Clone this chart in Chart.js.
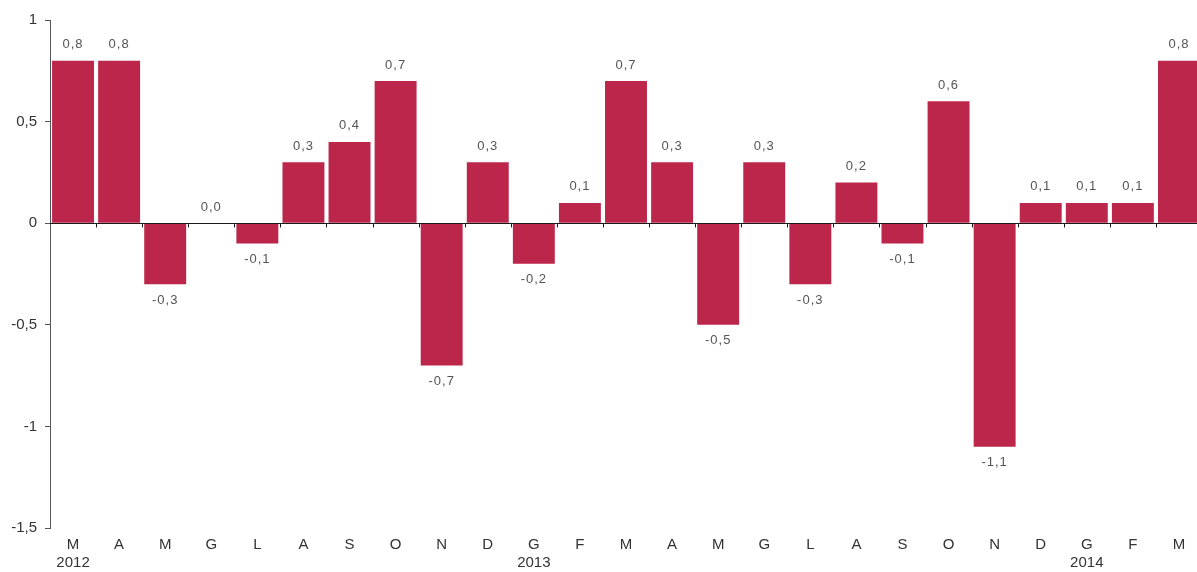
<!DOCTYPE html>
<html>
<head>
<meta charset="utf-8">
<script src="https://cdn.jsdelivr.net/npm/chart.js@4/dist/chart.umd.min.js"></script>
<style>
  html, body { margin: 0; padding: 0; background: #fff; overflow: hidden; }
  #wrap { width: 1202px; height: 572px; position: relative; }
</style>
</head>
<body>
<div id="wrap"><canvas id="chart"></canvas></div>
<script>
// monthly change, Mar 2012 - Mar 2014
const months = ["M","A","M","G","L","A","S","O","N","D","G","F","M","A","M","G","L","A","S","O","N","D","G","F","M"];
const years = { 0: "2012", 10: "2013", 22: "2014" };
const values = [0.8, 0.8, -0.3, 0.0, -0.1, 0.3, 0.4, 0.7, -0.7, 0.3, -0.2, 0.1, 0.7, 0.3, -0.5, 0.3, -0.3, 0.2, -0.1, 0.6, -1.1, 0.1, 0.1, 0.1, 0.8];
const yMin = -1.5, yMax = 1, yStep = 0.5;

const labels = months.map((m, i) => (years[i] ? [m, years[i]] : m));
const fmt = (v) => v.toFixed(1).replace(".", ",");

// zero line + small ticks between categories, and the value labels
const extras = {
  id: "extras",
  afterDatasetsDraw(chart) {
    const { ctx, chartArea, scales } = chart;
    const x = scales.x, y = scales.y;
    const y0 = Math.round(y.getPixelForValue(0)) + 0.5;
    const step = x.getPixelForValue(1) - x.getPixelForValue(0);

    ctx.save();
    ctx.strokeStyle = "#1a1a1a";
    ctx.lineWidth = 1;
    ctx.beginPath();
    ctx.moveTo(chartArea.left, y0);
    ctx.lineTo(chartArea.right, y0);
    for (let i = 0; i < months.length - 1; i++) {
      const px = Math.round(x.getPixelForValue(i) + step / 2) + 0.5;
      ctx.moveTo(px, y0);
      ctx.lineTo(px, y0 + 4);
    }
    ctx.stroke();

    const meta = chart.getDatasetMeta(0);
    ctx.fillStyle = "#555";
    ctx.font = "13px 'Liberation Sans', Arial, sans-serif";
    ctx.letterSpacing = "1px";
    ctx.textAlign = "center";
    ctx.textBaseline = "middle";
    meta.data.forEach((bar, i) => {
      const v = values[i];
      const ty = v < 0 ? bar.y + 16 : bar.y - 16;
      ctx.fillText(fmt(v), bar.x, ty);
    });
    ctx.restore();
  },
};

new Chart(document.getElementById("chart"), {
  type: "bar",
  data: {
    labels: labels,
    datasets: [
      {
        data: values,
        backgroundColor: "#bb264a",
        borderWidth: 0,
        categoryPercentage: 1,
        barPercentage: 0.91,
      },
    ],
  },
  options: {
    responsive: true,
    maintainAspectRatio: false,
    animation: false,
    layout: { padding: { top: 20, right: 0, left: 0, bottom: 0 } },
    plugins: {
      legend: { display: false },
      tooltip: { enabled: false },
    },
    scales: {
      x: {
        offset: true,
        grid: { display: false, drawTicks: false },
        border: { display: false },
        ticks: {
          maxRotation: 0,
          autoSkip: false,
          padding: 8,
          color: "#333",
          font: { size: 15, family: "'Liberation Sans', Arial, sans-serif", lineHeight: 1.2 },
        },
        afterFit(scale) {
          scale.height = 44;
        },
      },
      y: {
        min: yMin,
        max: yMax,
        grid: { drawOnChartArea: false, drawTicks: true, tickLength: 5, color: "#555" },
        border: { display: true, color: "#555", width: 1 },
        ticks: {
          stepSize: yStep,
          padding: 8,
          color: "#333",
          font: { size: 15, family: "'Liberation Sans', Arial, sans-serif" },
          callback: (v) => String(v).replace(".", ","),
        },
        afterFit(scale) {
          scale.width = 50;
        },
      },
    },
  },
  plugins: [extras],
});
</script>
</body>
</html>
